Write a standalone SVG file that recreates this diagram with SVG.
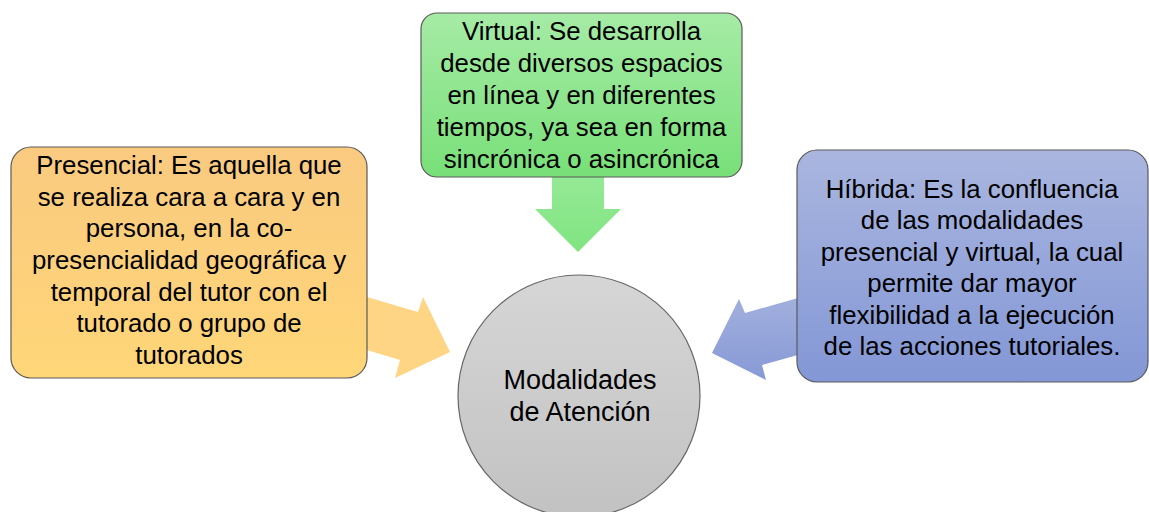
<svg xmlns="http://www.w3.org/2000/svg" width="1149" height="512" viewBox="0 0 1149 512">
<defs>
<linearGradient id="gOr" x1="0" y1="0" x2="0" y2="1"><stop offset="0" stop-color="#f9ca80"/><stop offset="1" stop-color="#ffd678"/></linearGradient>
<linearGradient id="gGr" x1="0" y1="0" x2="0" y2="1"><stop offset="0" stop-color="#a6eba6"/><stop offset="1" stop-color="#78e078"/></linearGradient>
<linearGradient id="gBl" x1="0" y1="0" x2="0" y2="1"><stop offset="0" stop-color="#aab6df"/><stop offset="1" stop-color="#8397d6"/></linearGradient>
<linearGradient id="gGy" x1="0" y1="0" x2="0" y2="1"><stop offset="0" stop-color="#d6d6d6"/><stop offset="1" stop-color="#c2c2c2"/></linearGradient>
<linearGradient id="aGr" x1="0" y1="0" x2="0" y2="1"><stop offset="0" stop-color="#97ea97"/><stop offset="1" stop-color="#80e480"/></linearGradient>
<linearGradient id="aBl" x1="0" y1="0" x2="0" y2="1"><stop offset="0" stop-color="#a2b0de"/><stop offset="1" stop-color="#8799d6"/></linearGradient>
</defs>
<style>
.box{stroke:#5a5a5a;stroke-width:1.2}
.t{font-family:"Liberation Sans",Arial,sans-serif;font-size:25.8px;fill:#000;text-anchor:middle}
.c{font-family:"Liberation Sans",Arial,sans-serif;font-size:27px;fill:#000;text-anchor:middle}
</style>
<rect width="1149" height="512" fill="#ffffff"/>
<g id="connectors">
<polygon fill="#fdd585" points="360,295 418,312 423,297 450,352 395,378 400,360 360,348"/>
<polygon fill="url(#aGr)" points="552,170 604,170 604,209 621,209 578,252 535,209 552,209"/>
<polygon fill="url(#aBl)" points="805,296 745,313 739,299 712,353 766,380 762,365 805,353"/>
</g>
<g id="presencial">
<rect class="box" x="11" y="147" width="356" height="231" rx="20" fill="url(#gOr)"/>
<text class="t" x="189" y="174">Presencial: Es aquella que</text>
<text class="t" x="189" y="206">se realiza cara a cara y en</text>
<text class="t" x="189" y="237">persona, en la co-</text>
<text class="t" x="189" y="269">presencialidad geográfica y</text>
<text class="t" x="189" y="301">temporal del tutor con el</text>
<text class="t" x="189" y="332">tutorado o grupo de</text>
<text class="t" x="189" y="364">tutorados</text>
</g>
<g id="virtual">
<rect class="box" x="421" y="13" width="321" height="164" rx="16" fill="url(#gGr)"/>
<text class="t" x="581.5" y="40">Virtual: Se desarrolla</text>
<text class="t" x="581.5" y="72">desde diversos espacios</text>
<text class="t" x="581.5" y="104">en línea y en diferentes</text>
<text class="t" x="581.5" y="136">tiempos, ya sea en forma</text>
<text class="t" x="581.5" y="168">sincrónica o asincrónica</text>
</g>
<g id="hibrida">
<rect class="box" x="797" y="150" width="351" height="232" rx="20" fill="url(#gBl)"/>
<text class="t" x="972" y="198">Híbrida: Es la confluencia</text>
<text class="t" x="972" y="229">de las modalidades</text>
<text class="t" x="972" y="261">presencial y virtual, la cual</text>
<text class="t" x="972" y="292">permite dar mayor</text>
<text class="t" x="972" y="324">flexibilidad a la ejecución</text>
<text class="t" x="972" y="355">de las acciones tutoriales.</text>
</g>
<g id="modalidades">
<circle cx="579" cy="396" r="121" fill="url(#gGy)" stroke="#666" stroke-width="1.2"/>
<text class="c" x="580" y="389">Modalidades</text>
<text class="c" x="580" y="421">de Atención</text>
</g>
</svg>
